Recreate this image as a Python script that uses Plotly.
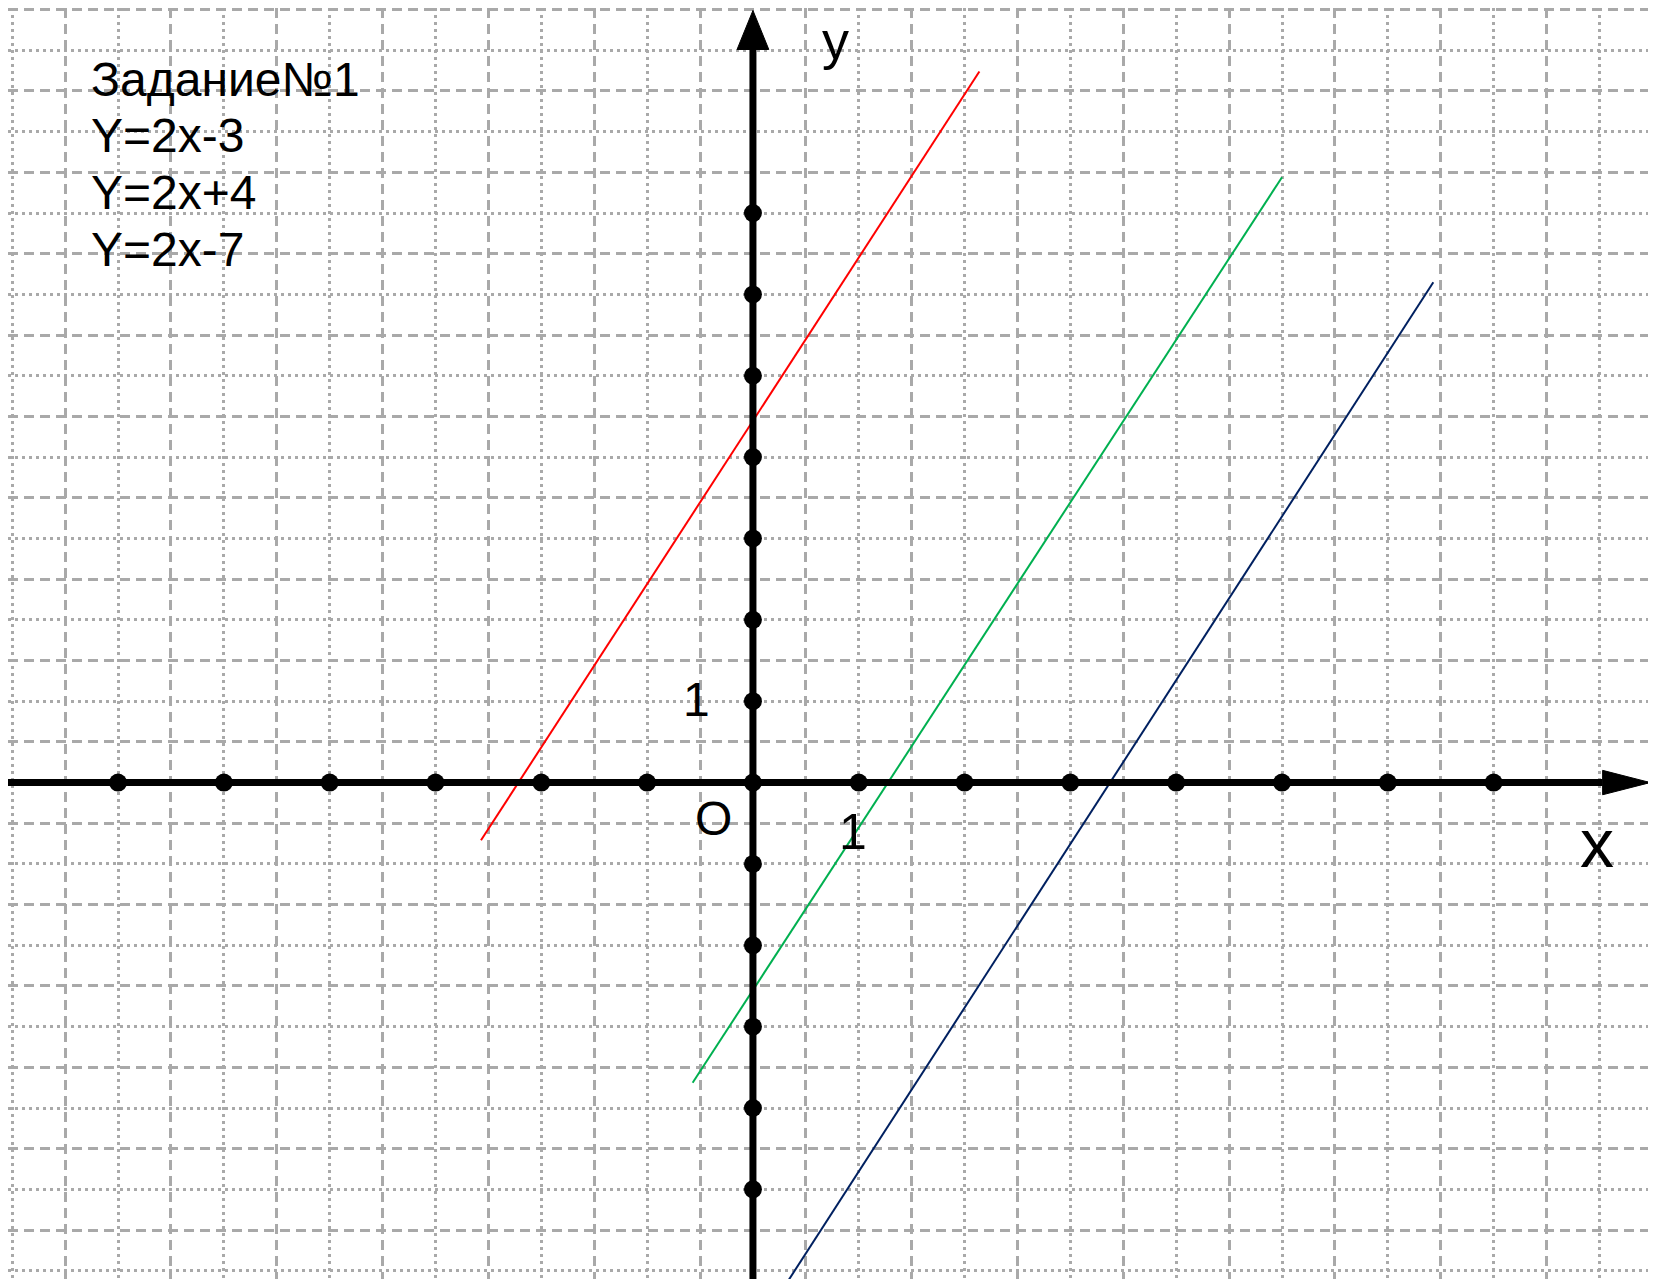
import plotly.graph_objects as go

# canvas + visible window of the coordinate plane
# (the page puts the plot 8px in from the top-left corner, the window is shifted by that)
W, H = 1656, 1279
x_range = [-7.04, 8.61]
y_range = [-6.20, 9.52]

# unit marks on the axes
x_dots = [-6, -5, -4, -3, -2, -1, 0, 1, 2, 3, 4, 5, 6, 7]
y_dots = [-5, -4, -3, -2, -1, 1, 2, 3, 4, 5, 6, 7]

# drawn lines (end points)
red_x = [-2.57, 2.14]
red_y = [-0.71, 8.74]
green_x = [-0.57, 5.00]
green_y = [-3.69, 7.44]
navy_x = [0.27, 6.43]
navy_y = [-6.25, 6.15]

# axis arrows
x_tip, x_head_len, x_head_half = 8.48, 0.45, 0.15
y_tip, y_head_len, y_head_half = 9.49, 0.48, 0.15

task_lines = ["Задание№1", "Y=2x-3", "Y=2x+4", "Y=2x-7"]

FONT = "Arial, Liberation Sans, sans-serif"
OFF = 8


def px(x, y):
    # pixel position in the reference -> paper coords
    return (x - OFF) / W, 1 - (y - OFF) / H


fig = go.Figure()

# coloured lines
fig.add_trace(go.Scatter(x=red_x, y=red_y, mode='lines',
                         line=dict(color='#ff0000', width=2)))
fig.add_trace(go.Scatter(x=green_x, y=green_y, mode='lines',
                         line=dict(color='#00b050', width=2)))
fig.add_trace(go.Scatter(x=navy_x, y=navy_y, mode='lines',
                         line=dict(color='#002060', width=2)))

# axes
fig.add_trace(go.Scatter(x=[x_range[0], x_tip - x_head_len], y=[0, 0], mode='lines',
                         line=dict(color='black', width=7)))
fig.add_trace(go.Scatter(x=[0, 0], y=[y_range[0], y_tip - y_head_len], mode='lines',
                         line=dict(color='black', width=7)))

# arrow heads
fig.add_trace(go.Scatter(x=[x_tip, x_tip - x_head_len, x_tip - x_head_len, x_tip],
                         y=[0, x_head_half, -x_head_half, 0],
                         mode='lines', fill='toself', fillcolor='black',
                         line=dict(color='black', width=1)))
fig.add_trace(go.Scatter(x=[0, y_head_half, -y_head_half, 0],
                         y=[y_tip, y_tip - y_head_len, y_tip - y_head_len, y_tip],
                         mode='lines', fill='toself', fillcolor='black',
                         line=dict(color='black', width=1)))

# unit dots
fig.add_trace(go.Scatter(x=x_dots, y=[0] * len(x_dots), mode='markers',
                         marker=dict(color='black', size=18)))
fig.add_trace(go.Scatter(x=[0] * len(y_dots), y=y_dots, mode='markers',
                         marker=dict(color='black', size=18)))

ann = []
# task text, top left
for i, t in enumerate(task_lines):
    ax_, ay_ = px(89, 79 + i * 56.7)
    ann.append(dict(x=ax_, y=ay_, xref='paper', yref='paper', text=t,
                    showarrow=False, xanchor='left', yanchor='middle',
                    font=dict(family=FONT, size=48, color='black')))

# axis labels
labels = [
    ("y", 835, 40, 54),
    ("x", 1597, 843, 68),
    ("O", 713, 818, 48),
    ("1", 696, 699, 48),
    ("1", 853, 832, 50),
]
for t, lx, ly, fs in labels:
    ax_, ay_ = px(lx, ly)
    ann.append(dict(x=ax_, y=ay_, xref='paper', yref='paper', text=t,
                    showarrow=False, xanchor='center', yanchor='middle',
                    font=dict(family=FONT, size=fs, color='black')))

grid_col = '#a9a9a9'
axis_common = dict(showticklabels=False, ticks='', zeroline=False, showline=False,
                   showgrid=True, dtick=1, tick0=0, gridcolor=grid_col, gridwidth=2.5,
                   griddash='3px,4px',
                   minor=dict(dtick=0.5, tick0=0, showgrid=True, gridcolor=grid_col,
                              gridwidth=2.5, griddash='10px,6px'))

fig.update_xaxes(range=x_range, **axis_common)
fig.update_yaxes(range=y_range, **axis_common)

fig.update_layout(
    width=W, height=H,
    margin=dict(l=0, r=0, t=0, b=0),
    paper_bgcolor='white', plot_bgcolor='white',
    showlegend=False,
    hovermode=False,
    annotations=ann,
)

fig.write_html("out.html")
